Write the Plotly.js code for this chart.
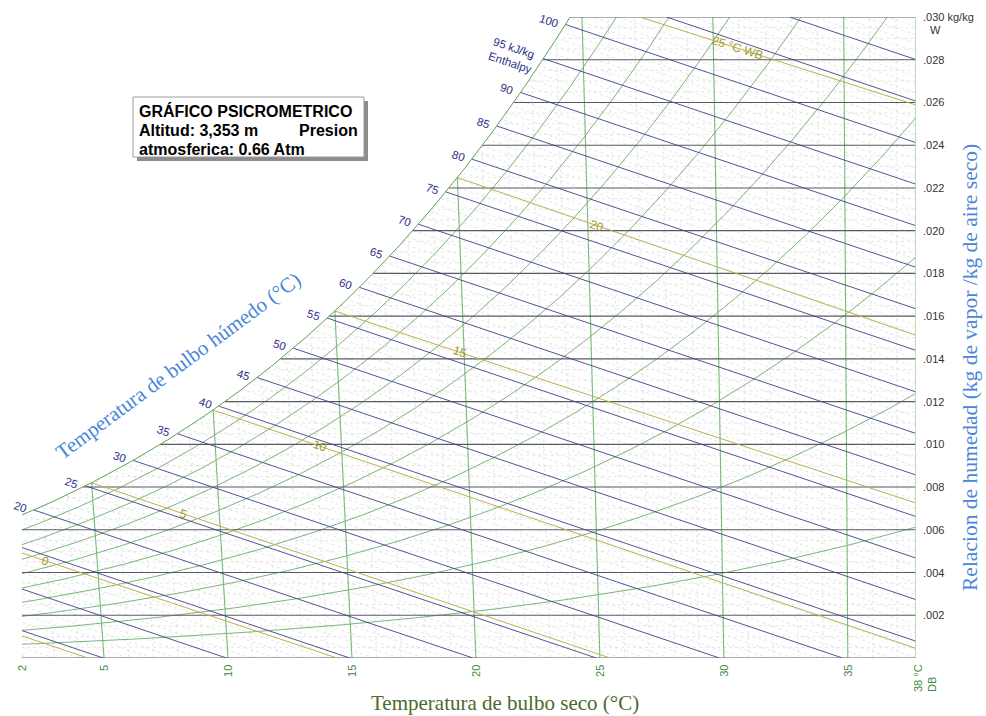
<!DOCTYPE html>
<html><head><meta charset="utf-8">
<script src="https://cdn.plot.ly/plotly-3.0.1.min.js"></script>
<style>html,body{margin:0;padding:0;background:#fff}#chart{width:986px;height:716px}</style>
</head><body><div id="chart"></div>
<script>
// ================= DATA =================
const pressureKPa = 67.03;               // 0.66 atm, 3,353 m
const satTempC = [-6,-5,-4,-3,-2,-1,0,1,2,3,4,5,6,7,8,9,10,11,12,13,14,15,16,17,18,19,20,21,22,23,24,25,26,27,28,29,30,31,32,33,34,35,36,37,38];
const satPressKPa = [0.3689,0.4017,0.4374,0.4760,0.5177,0.5627,0.6112,0.6571,0.7060,0.7581,0.8135,0.8725,0.9353,1.0020,1.0729,1.1481,1.2280,1.3128,1.4026,1.4979,1.5987,1.7055,1.8185,1.9380,2.0643,2.1979,2.3389,2.4878,2.6448,2.8105,2.9852,3.1693,3.3633,3.5674,3.7823,4.0084,4.2462,4.4961,4.7586,5.0345,5.3242,5.6280,5.9468,6.2812,6.6315];
const dryBulbMajor = [5,10,15,20,25,30,35];
const dryBulbLabels = ['5','10','15','20','25','30','35'];
const dryBulbEdgeLabels = ['2','38 °C<br>DB'];
const humidityMajor = [0,0.002,0.004,0.006,0.008,0.010,0.012,0.014,0.016,0.018,0.020,0.022,0.024,0.026,0.028,0.030];
const humidityLabels = ['','.002','.004','.006','.008','.010','.012','.014','.016','.018','.020','.022','.024','.026','.028','.030 kg/kg'];
const enthalpyMajor = [5,10,15,20,25,30,35,40,45,50,55,60,65,70,75,80,85,90,95,100,105,110];
const enthalpyLabelValues = [20,25,30,35,40,45,50,55,60,65,70,75,80,85,90,95,100];
const enthalpyLabelText = ['20','25','30','35','40','45','50','55','60','65','70','75','80','85','90','95 kJ/kg<br>Enthalpy','100'];
const wetBulbC = [-5,0,5,10,15,20,25];
const wetBulbEndX = [4.35,14.4,25.41,37.75,37.75,37.75,37.75];
const wetBulbEndW = [0,0,0,0.00045,0.00725,0.0151,0.02588];
const wetBulbText = ['','0','5','10','15','20','25 °C WB'];
const rhPercent = [10,20,30,40,50,60,70,80,90];

// ================= GEOMETRY / LAYOUT =================
const K = 1.86/1.006, HA = 1.006, HB = 2501 + 1.86*38;
const XL0 = 1.692, XR = 37.75, WMAX = 0.030;
const PL = 22, PR = 916, PT = 17, PB = 658;
const pxX = (PR-PL)/(XR-XL0), pxW = (PB-PT)/WMAX;
const wbLabelX = [null,2.62,8.19,13.71,19.36,24.89,30.57];

const Xof = (t,W) => t + K*(t-38)*W;
const XL = W => Xof(XL0, W);
const wOfP = p => 0.622*p/(pressureKPa-p);
function pws(t){
  const n = satTempC.length;
  let i = Math.floor(t - satTempC[0]); if(i<0) i=0; if(i>n-2) i=n-2;
  const f = (t - satTempC[i])/(satTempC[i+1]-satTempC[i]);
  return Math.exp(Math.log(satPressKPa[i])*(1-f) + Math.log(satPressKPa[i+1])*f);
}
function tOfP(p){
  const n = satTempC.length, lp = Math.log(p);
  let i = 0;
  while(i < n-2 && p > satPressKPa[i+1]) i++;
  const a = Math.log(satPressKPa[i]), b = Math.log(satPressKPa[i+1]);
  return satTempC[i] + (lp-a)/(b-a)*(satTempC[i+1]-satTempC[i]);
}
function Xsat(W){ const p = W*pressureKPa/(0.622+W); return Xof(tOfP(p), W); }
function inside(X,W){
  if(W < -1e-10 || W > WMAX+1e-10) return false;
  if(X > XR+1e-7) return false;
  if(X < XL(W)-1e-7) return false;
  if(W > 1e-6 && X < Xsat(W)-1e-7) return false;
  return true;
}
function insideSat(X,W){ return W <= WMAX+1e-10 && X >= XL(W)-1e-7 && X <= XR; }

function clipCurve(fn, n, ins){
  const xs=[], ys=[];
  let prevS=0, p0=fn(0), prevIn=ins(p0[0],p0[1]), open=false;
  if(prevIn){ xs.push(p0[0]); ys.push(p0[1]); open=true; }
  for(let i=1;i<=n;i++){
    const s=i/n, p=fn(s), inn=ins(p[0],p[1]);
    if(inn!==prevIn){
      let a=prevS, b=s;
      for(let k=0;k<45;k++){ const m=(a+b)/2, q=fn(m); if(ins(q[0],q[1])===prevIn) a=m; else b=m; }
      const q = fn(prevIn ? a : b);
      xs.push(q[0]); ys.push(q[1]);
      if(prevIn){ xs.push(null); ys.push(null); open=false; } else open=true;
    }
    if(inn){ xs.push(p[0]); ys.push(p[1]); }
    prevS=s; prevIn=inn;
  }
  if(open){ xs.push(null); ys.push(null); }
  return [xs,ys];
}
function family(list){ const X=[],Y=[]; list.forEach(([a,b])=>{ for(let i=0;i<a.length;i++){X.push(a[i]);Y.push(b[i]);} }); return [X,Y]; }

// ---- line families ----
const dbLine = t => clipCurve(s => { const W=s*0.031; return [Xof(t,W),W]; }, 60, inside);
const wLine = W => clipCurve(s => [-8 + s*(XR+8.5), W], 80, inside);
const hLine = h => clipCurve(s => { const W=-0.001+s*0.033; return [(h-HB*W)/HA, W]; }, 80, inside);
const rhLine = phi => clipCurve(s => { const t=-6+s*44; const W=wOfP(phi*pws(t)); return [Xof(t,W),W]; }, 400, inside);

const minorList = [];
for(let t=3;t<=37;t++){ if(t%5!==0) minorList.push(dbLine(t)); }
for(let k=1;k<60;k++){ if(k%4!==0) minorList.push(wLine(k*0.0005)); }
for(let h=1;h<=114;h++){ if(h%5!==0) minorList.push(hLine(h)); }
const minor = family(minorList);
const dbMaj = family(dryBulbMajor.map(dbLine));
const wMaj = family(humidityMajor.map(wLine));
const hMaj = family(enthalpyMajor.map(hLine));
const rh = family(rhPercent.map(p => rhLine(p/100)));
const sat = clipCurve(s => { const t=-2+s*30; const W=wOfP(pws(t)); return [Xof(t,W),W]; }, 400, insideSat);
const leftB = clipCurve(s => { const W=s*0.012; return [XL(W),W]; }, 60, inside);
const rightB = [[XR,XR],[0,WMAX]];

const wbStart = wetBulbC.map(tw => { const W=wOfP(pws(tw)); return [Xof(tw,W),W]; });
const wb = family(wetBulbC.map((tw,i) => {
  const a=wbStart[i], b=[wetBulbEndX[i],wetBulbEndW[i]];
  return clipCurve(s => { const u=s*1.05; return [a[0]+u*(b[0]-a[0]), a[1]+u*(b[1]-a[1])]; }, 80, inside);
}));

function tr(xy, color, width, dash){
  return {type:'scatter', mode:'lines', x:xy[0], y:xy[1], hoverinfo:'skip',
    line:{color, width, dash:dash||'solid'}, connectgaps:false, showlegend:false};
}
const traces = [
  tr(minor,'#e0e0e0',0.8,'3px,3px'),
  tr(rh,'#6aad6a',0.9),
  tr(dbMaj,'#78ba78',1.1),
  tr(wMaj,'#5a5a62',1.1),
  tr(wb,'#b8b24e',1.0),
  tr(hMaj,'#40408a',0.9),
  tr(sat,'#5aa25a',1.0),
  tr(leftB,'#6aae6a',1.0),
  tr(rightB,'#a9d6a9',1.6)
];

// ---- annotations ----
const ann = [];
const paperX = px => (px-PL)/(PR-PL), paperY = py => (PB-py)/(PB-PT);
const hAngle = Math.atan((pxW)/(HB/HA*pxX))*180/Math.PI;
enthalpyLabelValues.forEach((h,i) => {
  let lo=0.0037, hi=0.0345;
  const f = W => (h-HB*W)/HA - Xsat(W);
  for(let k=0;k<60;k++){ const m=(lo+hi)/2; if(f(m)>0) lo=m; else hi=m; }
  const W=(lo+hi)/2, X=(h-HB*W)/HA;
  ann.push({x:X, y:W, xref:'x', yref:'y', text:enthalpyLabelText[i], showarrow:false,
    xanchor:'right', yanchor:'middle', xshift:-3, yshift:3, textangle:hAngle, align:'left',
    font:{family:'Liberation Sans, Arial', size:11.5, color:'#2f2f88'}});
});
wetBulbC.forEach((tw,i) => {
  if(!wetBulbText[i]) return;
  const a=wbStart[i], b=[wetBulbEndX[i],wetBulbEndW[i]];
  const u=(wbLabelX[i]-a[0])/(b[0]-a[0]);
  const W=a[1]+u*(b[1]-a[1]);
  const ang=Math.atan2(-(b[1]-a[1])*pxW,(b[0]-a[0])*pxX)*180/Math.PI;
  ann.push({x:wbLabelX[i], y:W, xref:'x', yref:'y', text:wetBulbText[i], showarrow:false,
    xanchor:'center', yanchor:'middle', textangle:ang,
    font:{family:'Liberation Sans, Arial', size:12, color:'#a09a2c'}});
});
humidityMajor.forEach((W,i) => {
  if(!humidityLabels[i]) return;
  ann.push({x:1, y:W, xref:'paper', yref:'y', text:humidityLabels[i], showarrow:false,
    xanchor:'left', yanchor:'middle', xshift:5,
    font:{family:'Liberation Sans, Arial', size:11, color:'#333'}});
});
ann.push({x:1, y:WMAX, xref:'paper', yref:'y', text:'W', showarrow:false, xanchor:'left', yanchor:'top',
  xshift:12, yshift:-5, font:{family:'Liberation Sans, Arial', size:11, color:'#333'}});
const tickFont = {family:'Liberation Sans, Arial', size:11, color:'#3f8a3f'};
dryBulbMajor.forEach((t,i) => {
  ann.push({x:t, y:0, xref:'x', yref:'y', text:dryBulbLabels[i], showarrow:false, textangle:-90,
    xanchor:'center', yanchor:'top', yshift:-5, font:tickFont});
});
ann.push({x:XL0, y:0, xref:'x', yref:'y', text:dryBulbEdgeLabels[0], showarrow:false, textangle:-90,
  xanchor:'center', yanchor:'top', yshift:-5, font:tickFont});
ann.push({x:XR, y:0, xref:'x', yref:'y', text:dryBulbEdgeLabels[1], showarrow:false, textangle:-90,
  xanchor:'left', yanchor:'top', xshift:-6, yshift:-4, align:'left', font:tickFont});
// titles
ann.push({x:paperX(505), y:paperY(703), xref:'paper', yref:'paper', text:'Temperatura de bulbo seco (°C)',
  showarrow:false, xanchor:'center', yanchor:'middle',
  font:{family:'Liberation Serif, Times New Roman, serif', size:21, color:'#4b6a2b'}});
ann.push({x:paperX(970), y:paperY(368), xref:'paper', yref:'paper', text:'Relacion de humedad (kg de vapor /kg de aire seco)',
  showarrow:false, xanchor:'center', yanchor:'middle', textangle:-90,
  font:{family:'Liberation Serif, Times New Roman, serif', size:21.5, color:'#4a86d8'}});
ann.push({x:paperX(178), y:paperY(366), xref:'paper', yref:'paper', text:'Temperatura de bulbo húmedo (°C)',
  showarrow:false, xanchor:'center', yanchor:'middle', textangle:-36.5,
  font:{family:'Liberation Serif, Times New Roman, serif', size:21, color:'#4a86d8'}});
// info box
const boxFont = {family:'Liberation Sans, Arial', size:16, color:'#000'};
ann.push({x:paperX(137), y:paperY(111), xref:'paper', yref:'paper', text:'<b>GRÁFICO PSICROMETRICO</b>', showarrow:false, xanchor:'left', yanchor:'middle', font:boxFont});
ann.push({x:paperX(137), y:paperY(130), xref:'paper', yref:'paper', text:'<b>Altitud: 3,353 m</b>', showarrow:false, xanchor:'left', yanchor:'middle', font:boxFont});
ann.push({x:paperX(360), y:paperY(130), xref:'paper', yref:'paper', text:'<b>Presion</b>', showarrow:false, xanchor:'right', yanchor:'middle', font:boxFont});
ann.push({x:paperX(137), y:paperY(149), xref:'paper', yref:'paper', text:'<b>atmosferica: 0.66 Atm</b>', showarrow:false, xanchor:'left', yanchor:'middle', font:boxFont});

const shapes = [
  {type:'rect', xref:'paper', yref:'paper', x0:paperX(137), x1:paperX(368), y0:paperY(161), y1:paperY(101), fillcolor:'#8c8c8c', line:{width:0}},
  {type:'rect', xref:'paper', yref:'paper', x0:paperX(133), x1:paperX(364), y0:paperY(157), y1:paperY(97), fillcolor:'#fff', line:{color:'#9a9a9a', width:1}}
];

const layout = {
  width:986, height:716, margin:{l:PL, r:986-PR, t:PT, b:716-PB, pad:0},
  paper_bgcolor:'#fff', plot_bgcolor:'#fff', showlegend:false,
  xaxis:{range:[XL0,XR], visible:false, fixedrange:true},
  yaxis:{range:[0,WMAX], visible:false, fixedrange:true},
  annotations:ann, shapes:shapes
};
Plotly.newPlot('chart', traces, layout, {displayModeBar:false, staticPlot:true});
</script></body></html>
